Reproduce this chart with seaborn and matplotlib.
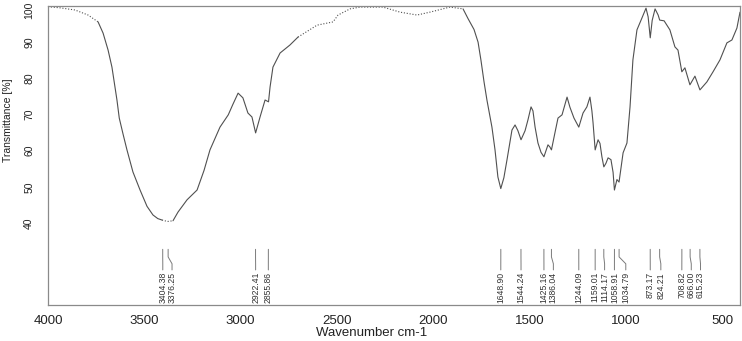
import matplotlib
matplotlib.use("Agg")
import matplotlib.pyplot as plt
import matplotlib.transforms as mtransforms
import pandas as pd
import seaborn as sns

# spectrum (wavenumber cm-1, transmittance %)
wavenumber = [4000, 3938, 3860, 3792, 3740, 3714, 3688, 3668, 3642, 3630,
              3610, 3590, 3559, 3522, 3486, 3455, 3430, 3408, 3380, 3351,
              3325, 3278, 3226, 3190, 3159, 3107, 3064, 3040, 3013, 2988,
              2962, 2941, 2922, 2899, 2873, 2855, 2847, 2832, 2795, 2744,
              2702, 2603, 2520, 2494, 2432, 2380, 2261, 2172, 2084, 2017,
              1913, 1845, 1819, 1788, 1767, 1752, 1736, 1721, 1695, 1679,
              1664, 1649, 1633, 1617, 1591, 1575, 1560, 1544, 1523, 1508,
              1492, 1482, 1471, 1456, 1440, 1425, 1404, 1394, 1386, 1368,
              1352, 1331, 1305, 1290, 1269, 1244, 1222, 1202, 1186, 1176,
              1170, 1159, 1144, 1134, 1124, 1114, 1103, 1092, 1077, 1066,
              1059, 1046, 1035, 1014, 994, 978, 963, 942, 916, 895,
              884, 873, 863, 848, 832, 824, 801, 771, 745, 729,
              709, 693, 667, 641, 615, 579, 547, 511, 475, 449,
              423, 407]
transmittance = [99.8, 99.5, 98.9, 97.5, 95.6, 92.5, 87.8, 83.1, 74.0, 69.0,
                 64.5, 60.2, 54.1, 49.1, 44.6, 42.2, 41.2, 40.8, 40.4, 40.6,
                 43.0, 46.4, 49.1, 54.5, 60.2, 66.5, 69.9, 72.8, 75.9, 74.6,
                 70.4, 69.3, 64.9, 69.3, 74.0, 73.5, 77.6, 83.1, 87.0, 89.2,
                 91.4, 94.7, 95.6, 97.5, 99.2, 99.7, 99.7, 98.3, 97.5, 98.3,
                 99.7, 99.2, 96.5, 93.5, 90.0, 85.0, 79.0, 74.0, 66.5, 60.2,
                 52.7, 49.5, 52.5, 57.4, 65.7, 67.1, 65.5, 63.0, 65.5, 68.5,
                 72.1, 71.0, 66.5, 62.1, 59.5, 58.3, 61.6, 61.0, 60.2, 64.9,
                 69.0, 69.9, 74.8, 72.0, 69.0, 66.5, 70.4, 72.1, 74.8, 71.0,
                 67.7, 60.2, 63.0, 62.0, 58.3, 55.5, 56.5, 58.0, 57.5, 54.0,
                 49.1, 52.0, 51.3, 59.4, 62.1, 72.1, 85.1, 93.4, 96.7, 99.4,
                 97.0, 91.2, 96.0, 99.2, 97.5, 96.1, 95.9, 93.4, 88.7, 87.8,
                 81.8, 82.9, 78.2, 80.6, 76.8, 79.0, 81.8, 85.1, 89.8, 90.6,
                 93.9, 98.3]

# stretches drawn dotted in the reference
dotted_ranges = [(4000, 3740), (3408, 3351), (2702, 1845)]

peak_wn = [3404.38, 3376.25, 2922.41, 2855.86, 1648.90, 1544.24, 1425.16,
           1386.04, 1244.09, 1159.01, 1114.17, 1058.91, 1034.79, 873.17,
           824.21, 708.82, 666.00, 615.23]
label_wn = [3404, 3356, 2922, 2856, 1649, 1544, 1425, 1376, 1244, 1159,
            1110, 1059, 1000, 873, 818, 709, 660, 612]

# split the curve into solid / dotted pieces
rows = []
seg = 0
prev_kind = None
for i, (w, t) in enumerate(zip(wavenumber, transmittance)):
    kind = "solid"
    for hi, lo in dotted_ranges:
        if lo <= w <= hi:
            kind = "dotted"
    if prev_kind is not None and kind != prev_kind:
        # the two pieces share the boundary point
        w0, t0 = wavenumber[i - 1], transmittance[i - 1]
        if prev_kind == "dotted" and kind == "solid":
            seg += 1
            rows.append((w0, t0, kind, seg))
        else:
            rows.append((w, t, prev_kind, seg))
            seg += 1
    rows.append((w, t, kind, seg))
    prev_kind = kind
df = pd.DataFrame(rows, columns=["wavenumber", "transmittance", "kind", "seg"])

sns.set_style("white")
plt.rcParams["font.family"] = ["Liberation Sans", "DejaVu Sans"]

fig = plt.figure(figsize=(7.42, 3.41), dpi=100)
ax = fig.add_axes([48 / 742, 1 - 305 / 341, 692 / 742, 299 / 341])

sns.lineplot(data=df, x="wavenumber", y="transmittance", style="kind",
             units="seg", estimator=None, sort=False, color="#505050",
             dashes={"solid": "", "dotted": (1, 1.6)}, linewidth=0.8,
             legend=False, ax=ax)

# peak markers with leader lines
y_top, y_b1, y_b2, y_end, y_txt = 32.7, 30.6, 28.7, 27.0, 26.4
for pw, lw in zip(peak_wn, label_wn):
    ax.plot([pw, pw, lw, lw], [y_top, y_b1, y_b2, y_end],
            color="#7a7a7a", linewidth=0.7)
    ax.text(lw, y_txt, f"{pw:.2f}", rotation=90, ha="center", va="top",
            fontsize=6.2, color="#333333")

ax.set_xlim(4000, 407)
ax.set_ylim(17.3, 100)
ax.set_xticks([4000, 3500, 3000, 2500, 2000, 1500, 1000, 500])
ax.set_yticks([40, 50, 60, 70, 80, 90, 100])
ax.tick_params(axis="x", length=5, width=0.8, color="#808080",
               labelsize=9.5, pad=2, labelcolor="#222222")
ax.tick_params(axis="y", length=5, width=0.8, color="#808080",
               labelsize=7.5, pad=5, labelcolor="#222222")
for lab in ax.get_yticklabels():
    lab.set_rotation(90)
    lab.set_va("center")
# nudge the top label down a little so it stays inside the figure
top_lab = ax.get_yticklabels()[-1]
top_lab.set_transform(top_lab.get_transform()
                      + mtransforms.ScaledTranslation(0, -3 / 72, fig.dpi_scale_trans))
for sp in ax.spines.values():
    sp.set_color("#8a8a8a")
    sp.set_linewidth(0.9)

ax.set_xlabel("Wavenumber cm-1", fontsize=9.5, color="#222222")
ax.set_ylabel("Transmittance [%]", fontsize=7.5, color="#222222")
ax.xaxis.set_label_coords(324 / 692, -22 / 299)
ax.yaxis.set_label_coords(-35 / 692, 185 / 299)

fig.savefig("out.png", dpi=100)
